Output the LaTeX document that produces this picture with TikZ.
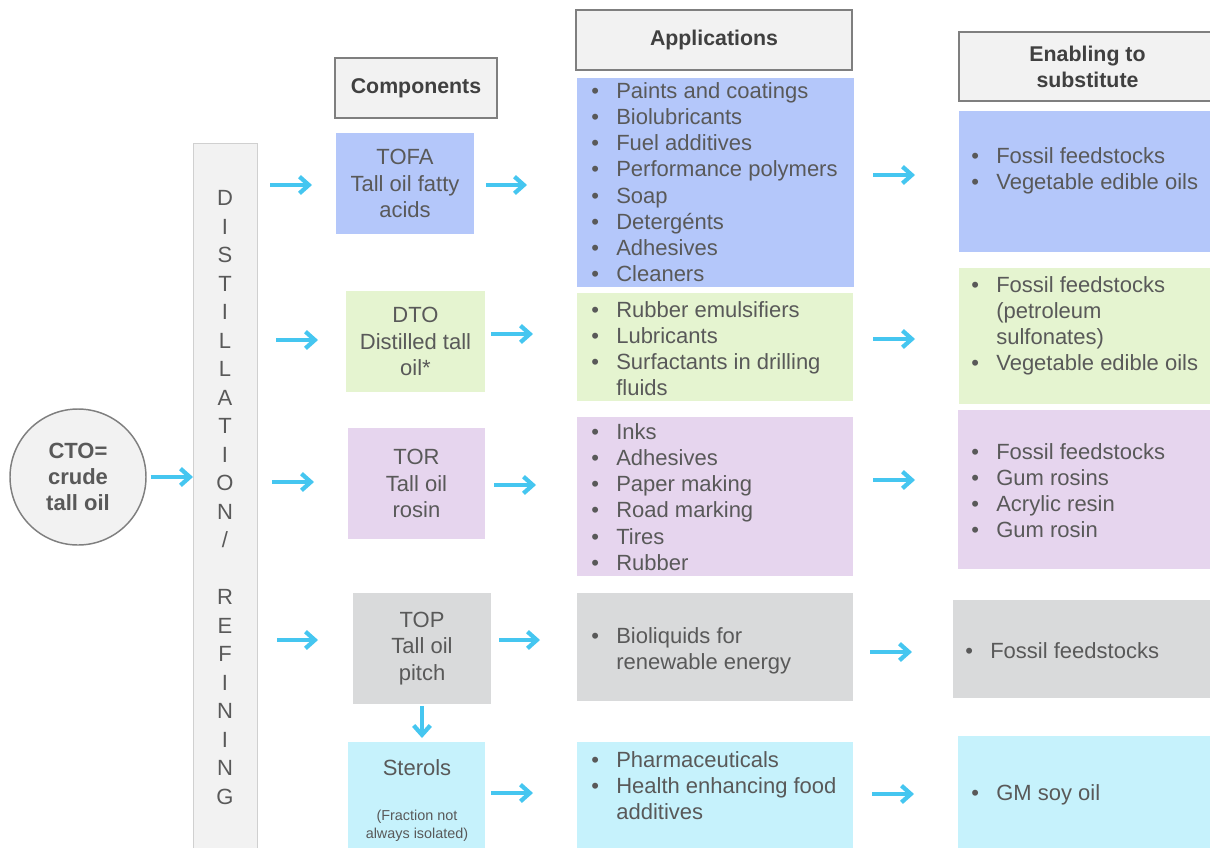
\documentclass[tikz,border=0pt]{standalone}
\usepackage{fontspec}
\setmainfont{Liberation Sans}
\usetikzlibrary{arrows.meta}
\definecolor{txt}{HTML}{595959}
\definecolor{hdr}{HTML}{404040}
\definecolor{hdrfill}{HTML}{F2F2F2}
\definecolor{hdrline}{HTML}{7F7F7F}
\definecolor{barline}{HTML}{D0D0D0}
\definecolor{cblue}{HTML}{B4C7FA}
\definecolor{cgreen}{HTML}{E5F4D0}
\definecolor{cpurple}{HTML}{E6D5EE}
\definecolor{cgray}{HTML}{D9DADB}
\definecolor{ccyan}{HTML}{C6F2FC}
\definecolor{arrowc}{HTML}{45C6F0}
\newcommand\fs{\fontsize{16.5pt}{19.7pt}\selectfont}
\newcommand\boxnode[7]{%
  \node[#1, minimum width={(#5-#3)*0.75pt}, minimum height={(#6-#4)*0.75pt}] (#2) at ({(#3+#5)/2},{(#4+#6)/2}) {#7};}
\newcommand\blist[1]{\begin{tabular}[t]{@{}l@{\hspace{13pt}}l@{}}#1\end{tabular}}
\newcommand\slashch{/}
\tikzset{
  hdrbox/.style={draw=hdrline, fill=hdrfill, line width=1pt, text=hdr, font=\bfseries\fontsize{16pt}{19.5pt}\selectfont, align=center, inner sep=0pt, outer sep=0pt},
  cbox/.style={inner sep=0pt, outer sep=0pt, text=txt, font=\fs, align=center},
  barbox/.style={draw=barline, fill=hdrfill, line width=0.6pt, inner sep=0pt, outer sep=0pt},
  lst/.style={inner sep=0pt, anchor=base west, text=txt, font=\fs},
  letter/.style={inner sep=0pt, text=txt, font=\fontsize{16.5pt}{19pt}\selectfont, text height=11.8pt, text depth=0pt},
  arr/.style={draw=arrowc, line width=3.2pt, -{Straight Barb[length=7pt,width=12.5pt]}},
}
\begin{document}
\begin{tikzpicture}[x=0.75pt,y=-0.75pt]
\useasboundingbox (0,0) rectangle (1210,847);
% headers
\boxnode{hdrbox}{hcomp}{335}{58}{497}{118}{Components}
\boxnode{hdrbox}{happ}{576}{10}{852}{70}{Applications}
\boxnode{hdrbox}{hen}{959}{32}{1216}{101}{Enabling to\\substitute}
% CTO
\node[circle, draw=hdrline, fill=hdrfill, line width=1.1pt, minimum size=102pt, inner sep=0pt, text=txt, align=center, font=\bfseries\fontsize{16.5pt}{19.5pt}\selectfont] (cto) at (78,477) {CTO=\\crude\\tall oil};
% distillation bar
\boxnode{barbox}{bar}{193}{143}{257}{855}{}
\foreach \l/\i in {D/0,I/1,S/2,T/3,I/4,L/5,L/6,A/7,T/8,I/9,O/10,N/11,\slashch/12,R/14,E/15,F/16,I/17,N/18,I/19,N/20,G/21}
  \node[letter] (L\i) at (225,{198+28.5*\i}) {\l};
% components
\boxnode{cbox,fill=cblue}{tofa}{336}{133}{474}{234}{TOFA\\Tall oil fatty\\acids}
\boxnode{cbox,fill=cgreen}{dto}{346}{291}{485}{392}{DTO\\Distilled tall\\oil*}
\boxnode{cbox,fill=cpurple}{tor}{348}{428}{485}{539}{TOR\\Tall oil\\rosin}
\boxnode{cbox,fill=cgray}{top}{353}{593}{491}{704}{TOP\\Tall oil\\pitch}
\boxnode{cbox,fill=ccyan}{st}{348}{742}{485}{855}{}
\node[cbox] (stT) at (417,768) {Sterols};
\node[cbox, font=\fontsize{10.8pt}{13.5pt}\selectfont] (stF) at (417,826) {(Fraction not\\always isolated)};
% applications
\boxnode{cbox,fill=cblue}{app1}{577}{78}{854}{287}{}
\boxnode{cbox,fill=cgreen}{app2}{577}{293}{853}{401}{}
\boxnode{cbox,fill=cpurple}{app3}{577}{417}{853}{576}{}
\boxnode{cbox,fill=cgray}{app4}{577}{593}{853}{701}{}
\boxnode{cbox,fill=ccyan}{app5}{577}{742}{853}{855}{}
\node[lst] (t1) at (591,98) {\blist{•&Paints and coatings\\•&Biolubricants\\•&Fuel additives\\•&Performance polymers\\•&Soap\\•&Detergénts\\•&Adhesives\\•&Cleaners}};
\node[lst] (t2) at (591,317) {\blist{•&Rubber emulsifiers\\•&Lubricants\\•&Surfactants in drilling\\&fluids}};
\node[lst] (t3) at (591,439) {\blist{•&Inks\\•&Adhesives\\•&Paper making\\•&Road marking\\•&Tires\\•&Rubber}};
\node[lst] (t4) at (591,643) {\blist{•&Bioliquids for\\&renewable energy}};
\node[lst] (t5) at (591,767) {\blist{•&Pharmaceuticals\\•&Health enhancing food\\&additives}};
% enabling
\boxnode{cbox,fill=cblue}{en1}{959}{111}{1216}{252}{}
\boxnode{cbox,fill=cgreen}{en2}{959}{268}{1216}{404}{}
\boxnode{cbox,fill=cpurple}{en3}{958}{410}{1216}{569}{}
\boxnode{cbox,fill=cgray}{en4}{953}{600}{1216}{698}{}
\boxnode{cbox,fill=ccyan}{en5}{958}{736}{1216}{855}{}
\node[lst] (e1) at (971,163) {\blist{•&Fossil feedstocks\\•&Vegetable edible oils}};
\node[lst] (e2) at (971,292) {\blist{•&Fossil feedstocks\\&(petroleum\\&sulfonates)\\•&Vegetable edible oils}};
\node[lst] (e3) at (971,459) {\blist{•&Fossil feedstocks\\•&Gum rosins\\•&Acrylic resin\\•&Gum rosin}};
\node[lst] (e4) at (965,658) {\blist{•&Fossil feedstocks}};
\node[lst] (e5) at (971,800) {\blist{•&GM soy oil}};
% arrows
\draw[arr, shorten <=3pt] (cto.east) -- (bar.west |- cto.east);
\draw[arr, shorten <=9.75pt, shorten >=18pt] (bar.east |- 0,185) -- (tofa.west |- 0,185);
\draw[arr, shorten <=14.25pt, shorten >=21pt] (bar.east |- 0,340) -- (dto.west |- 0,340);
\draw[arr, shorten <=11.25pt, shorten >=25.5pt] (bar.east |- 0,482) -- (tor.west |- 0,482);
\draw[arr, shorten <=15pt, shorten >=26.25pt] (bar.east |- 0,640) -- (top.west |- 0,640);
\draw[arr, shorten <=9pt, shorten >=37.5pt] (tofa.east |- 0,185) -- (app1.west |- 0,185);
\draw[arr, shorten <=4.5pt, shorten >=33pt] (dto.east |- 0,334) -- (app2.west |- 0,334);
\draw[arr, shorten <=6.75pt, shorten >=30.75pt] (tor.east |- 0,485) -- (app3.west |- 0,485);
\draw[arr, shorten <=6pt, shorten >=27.75pt] (top.east |- 0,640) -- (app4.west |- 0,640);
\draw[arr, shorten <=4.5pt, shorten >=33pt] (st.east |- 0,793) -- (app5.west |- 0,793);
\draw[arr, shorten <=14.25pt, shorten >=33pt] (app1.east |- 0,175) -- (en1.west |- 0,175);
\draw[arr, shorten <=15pt, shorten >=33pt] (app2.east |- 0,339) -- (en2.west |- 0,339);
\draw[arr, shorten <=15pt, shorten >=32.25pt] (app3.east |- 0,480) -- (en3.west |- 0,480);
\draw[arr, shorten <=12.75pt, shorten >=30.75pt] (app4.east |- 0,652) -- (en4.west |- 0,652);
\draw[arr, shorten <=14.25pt, shorten >=33pt] (app5.east |- 0,794) -- (en5.west |- 0,794);
\draw[arr, shorten <=1.5pt, shorten >=3pt] (top.south) -- (top.south |- st.north);
\end{tikzpicture}
\end{document}
